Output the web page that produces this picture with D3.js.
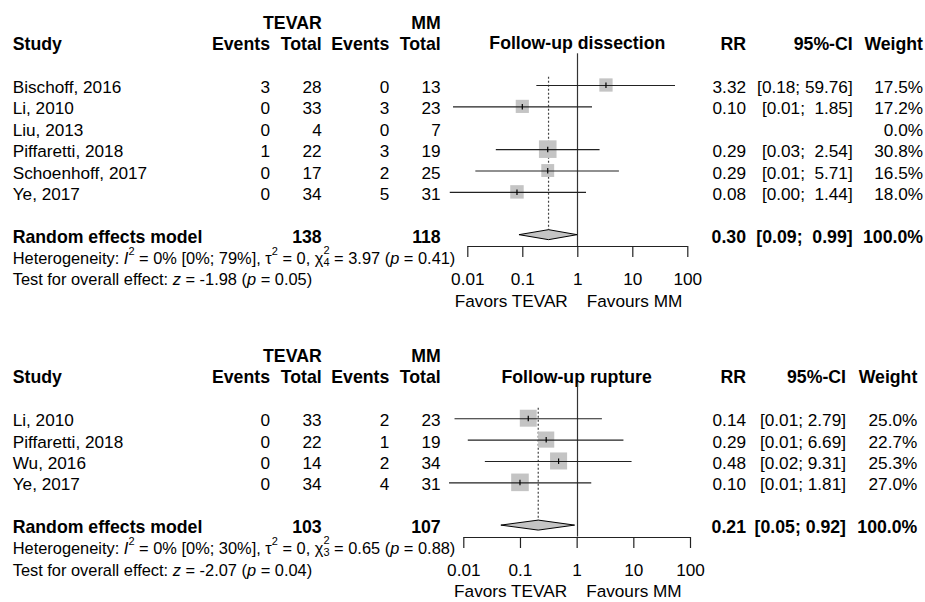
<!DOCTYPE html>
<html>
<head>
<meta charset="utf-8">
<script src="https://cdn.jsdelivr.net/npm/d3@7"></script>
<style>
  html, body { margin: 0; padding: 0; background: #fff; }
  svg { display: block; }
  text { font-family: "Liberation Sans", Arial, sans-serif; fill: #000; }
</style>
</head>
<body>
<svg id="chart" width="925" height="602"></svg>
<script>
// ---------------- DATA ----------------
// Panel 1: Follow-up dissection
const studies1 = ["Bischoff, 2016", "Li, 2010", "Liu, 2013", "Piffaretti, 2018", "Schoenhoff, 2017", "Ye, 2017"];
const tevarEvents1 = [3, 0, 0, 1, 0, 0];
const tevarTotal1 = [28, 33, 4, 22, 17, 34];
const mmEvents1 = [0, 3, 0, 3, 2, 5];
const mmTotal1 = [13, 23, 7, 19, 25, 31];
const rr1 = [3.32, 0.10, null, 0.29, 0.29, 0.08];
const lower1 = [0.18, 0.0055, null, 0.033, 0.014, 0.0048];
const upper1 = [59.76, 1.85, null, 2.54, 5.71, 1.44];
const weight1 = [17.5, 17.2, 0.0, 30.8, 16.5, 18.0];
const pooled1 = [0.30, 0.087, 0.99];   // RR, lower, upper
const het1 = { i2: "0% [0%; 79%]", tau2: "0", df: "4", q: "3.97", p: "0.41", z: "-1.98", pz: "0.05" };

// Panel 2: Follow-up rupture
const studies2 = ["Li, 2010", "Piffaretti, 2018", "Wu, 2016", "Ye, 2017"];
const tevarEvents2 = [0, 0, 0, 0];
const tevarTotal2 = [33, 22, 14, 34];
const mmEvents2 = [2, 1, 2, 4];
const mmTotal2 = [23, 19, 34, 31];
const rr2 = [0.14, 0.29, 0.48, 0.10];
const lower2 = [0.007, 0.012, 0.024, 0.0056];
const upper2 = [2.79, 6.69, 9.31, 1.81];
const weight2 = [25.0, 22.7, 25.3, 27.0];
const pooled2 = [0.21, 0.046, 0.92];
const het2 = { i2: "0% [0%; 30%]", tau2: "0", df: "3", q: "0.65", p: "0.88", z: "-2.07", pz: "0.04" };

const titles = ["Follow-up dissection", "Follow-up rupture"];
const tickValues = [0.01, 0.1, 1, 10, 100];
const tickLabels = ["0.01", "0.1", "1", "10", "100"];
const favLeft = "Favors TEVAR";
const favRight = "Favours MM";
const modelLabel = "Random effects model";

// ---------------- LAYOUT ----------------
const svg = d3.select("#chart");
svg.append("rect").attr("width", 925).attr("height", 602).attr("fill", "#fff");

const FS = 17.2;      // regular text
const FSB = 17.7;     // bold text
const FSH = 16.4;     // heterogeneity / test lines
const ROW = 21.38;

const panels = [
  { studies: studies1, te: tevarEvents1, tt: tevarTotal1, me: mmEvents1, mt: mmTotal1,
    rr: rr1, lo: lower1, up: upper1, w: weight1, pooled: pooled1, het: het1, title: titles[0],
    line0: 85, range: [467.3, 687.3], ciRight: 852.7, wRight: 923, vTop: 53.3, dotTop: 76.7, titleShift: -1.5 },
  { studies: studies2, te: tevarEvents2, tt: tevarTotal2, me: mmEvents2, mt: mmTotal2,
    rr: rr2, lo: lower2, up: upper2, w: weight2, pooled: pooled2, het: het2, title: titles[1],
    line0: 418.2, range: [463.3, 690], ciRight: 846, wRight: 917.3, vTop: 383.3, dotTop: 407.7, titleShift: 0 }
];

const colStudy = 12.7, colTE = 270, colTT = 321.7, colME = 389.3, colMT = 440.7, colRR = 746;

function txt(g, x, y, s, opts = {}) {
  const t = g.append("text").attr("x", x).attr("y", y).text(s)
    .attr("font-size", opts.size || (opts.bold ? FSB : FS))
    .attr("text-anchor", opts.anchor || "start")
    .style("white-space", "pre");
  if (opts.bold) t.attr("font-weight", "bold");
  return t;
}

panels.forEach(P => {
  const g = svg.append("g");
  const n = P.studies.length;
  const lineY = i => P.line0 + i * ROW;
  const base = i => lineY(i) + 8;
  const sumRow = n + 1;
  const x = d3.scaleLog().domain([0.01, 100]).range(P.range);

  // headers
  txt(g, colTT, base(-3), "TEVAR", { bold: true, anchor: "end" });
  txt(g, colMT, base(-3), "MM", { bold: true, anchor: "end" });
  txt(g, colStudy, base(-2), "Study", { bold: true });
  txt(g, colTE, base(-2), "Events", { bold: true, anchor: "end" });
  txt(g, colTT, base(-2), "Total", { bold: true, anchor: "end" });
  txt(g, colME, base(-2), "Events", { bold: true, anchor: "end" });
  txt(g, colMT, base(-2), "Total", { bold: true, anchor: "end" });
  txt(g, x(1), base(-2) + P.titleShift, P.title, { bold: true, anchor: "middle" });
  txt(g, colRR, base(-2), "RR", { bold: true, anchor: "end" });
  txt(g, P.ciRight, base(-2), "95%-CI", { bold: true, anchor: "end" });
  txt(g, P.wRight, base(-2), "Weight", { bold: true, anchor: "end" });

  // CI label formatting (pad upper bound like R meta)
  const upStrs = P.up.map(v => v == null ? "" : v.toFixed(2));
  const maxUp = d3.max(upStrs, s => s.length);
  const ciLabel = (lo, up) => {
    const u = up.toFixed(2);
    return "[" + lo.toFixed(2) + "; " + " ".repeat(maxUp - u.length) + u + "]";
  };

  // study rows
  P.studies.forEach((s, i) => {
    const b = base(i);
    txt(g, colStudy, b, s);
    txt(g, colTE, b, String(P.te[i]), { anchor: "end" });
    txt(g, colTT, b, String(P.tt[i]), { anchor: "end" });
    txt(g, colME, b, String(P.me[i]), { anchor: "end" });
    txt(g, colMT, b, String(P.mt[i]), { anchor: "end" });
    if (P.rr[i] != null) {
      txt(g, colRR, b, P.rr[i].toFixed(2), { anchor: "end" });
      txt(g, P.ciRight, b, ciLabel(P.lo[i], P.up[i]), { anchor: "end" });
    }
    txt(g, P.wRight, b, P.w[i].toFixed(1) + "%", { anchor: "end" });
  });

  // vertical reference line at 1
  const axisY = lineY(sumRow) + 11.5;
  g.append("line").attr("x1", Math.round(x(1)) + 0.5).attr("x2", Math.round(x(1)) + 0.5)
    .attr("y1", P.vTop).attr("y2", axisY).attr("stroke", "#333").attr("stroke-width", 1.2);

  // pooled dotted line
  const xp = x(P.pooled[0]);
  g.append("line").attr("x1", xp).attr("x2", xp)
    .attr("y1", P.dotTop).attr("y2", lineY(sumRow) - 5)
    .attr("stroke", "#444").attr("stroke-width", 1.2).attr("stroke-dasharray", "2,2");

  // squares & CI lines
  const maxW = d3.max(P.w);
  const side = d3.scaleSqrt().domain([0, maxW]).range([0, 17.6]);
  P.studies.forEach((s, i) => {
    if (P.rr[i] == null) return;
    const y = lineY(i);
    const sd = side(P.w[i]);
    g.append("rect").attr("x", x(P.rr[i]) - sd / 2).attr("y", y - sd / 2)
      .attr("width", sd).attr("height", sd).attr("fill", "#c4c4c4");
    g.append("line").attr("x1", x(P.lo[i])).attr("x2", x(P.up[i]))
      .attr("y1", y + 0.5).attr("y2", y + 0.5).attr("stroke", "#222").attr("stroke-width", 1.1);
    g.append("line").attr("x1", x(P.rr[i])).attr("x2", x(P.rr[i]))
      .attr("y1", y - 2.5).attr("y2", y + 3).attr("stroke", "#000").attr("stroke-width", 1.2);
  });

  // summary row
  const sb = base(sumRow);
  txt(g, colStudy, sb, modelLabel, { bold: true });
  txt(g, colTT, sb, String(d3.sum(P.tt)), { bold: true, anchor: "end" });
  txt(g, colMT, sb, String(d3.sum(P.mt)), { bold: true, anchor: "end" });
  txt(g, colRR, sb, P.pooled[0].toFixed(2), { bold: true, anchor: "end" });
  txt(g, P.ciRight, sb, ciLabel(P.pooled[1], P.pooled[2]), { bold: true, anchor: "end" });
  txt(g, P.wRight, sb, d3.sum(P.w).toFixed(1) + "%", { bold: true, anchor: "end" });

  const sy = lineY(sumRow);
  const dpts = [[x(P.pooled[1]), sy], [xp, sy - 5], [x(P.pooled[2]), sy], [xp, sy + 5]];
  g.append("path").attr("d", "M" + dpts.map(p => p.join(",")).join("L") + "Z")
    .attr("fill", "#c4c4c4").attr("stroke", "#000").attr("stroke-width", 1);

  // axis
  const axis = d3.axisBottom(x).tickValues(tickValues)
    .tickFormat((d, i) => tickLabels[i]).tickSize(11).tickSizeOuter(0).tickPadding(17);
  const ag = g.append("g").attr("transform", `translate(0,${Math.round(axisY)})`).call(axis);
  ag.selectAll("path, line").attr("stroke", "#222").attr("stroke-width", 1.2);
  ag.selectAll("text").attr("font-size", FS).attr("font-family", '"Liberation Sans", Arial, sans-serif')
    .attr("fill", "#000").attr("dy", null).attr("y", base(sumRow + 2) - Math.round(axisY));
  ag.attr("font-size", null).attr("font-family", null);

  txt(g, x(1) - 9.5, base(sumRow + 3), favLeft, { anchor: "end" });
  txt(g, x(1) + 9.5, base(sumRow + 3), favRight);

  // heterogeneity line
  const H = P.het;
  const ht = g.append("text").attr("x", colStudy).attr("y", base(sumRow + 1)).attr("font-size", FSH).style("white-space", "pre");
  ht.append("tspan").text("Heterogeneity: ");
  ht.append("tspan").attr("font-style", "italic").text("I");
  ht.append("tspan").attr("font-size", 11).attr("dy", -9).text("2");
  ht.append("tspan").attr("dy", 9).text(" = " + H.i2 + ", \u03C4");
  ht.append("tspan").attr("font-size", 11).attr("dy", -9).text("2");
  ht.append("tspan").attr("dy", 9).text(" = " + H.tau2 + ", \u03C7");
  ht.append("tspan").attr("font-size", 11).attr("dy", -10).text("2");
  ht.append("tspan").attr("font-size", 11).attr("dx", -6.1).attr("dy", 12).text(H.df);
  ht.append("tspan").attr("dy", -2).text(" = " + H.q + " (");
  ht.append("tspan").attr("font-style", "italic").text("p");
  ht.append("tspan").text(" = " + H.p + ")");

  // overall effect line
  const tt = g.append("text").attr("x", colStudy).attr("y", base(sumRow + 2)).attr("font-size", FSH).style("white-space", "pre");
  tt.append("tspan").text("Test for overall effect: ");
  tt.append("tspan").attr("font-style", "italic").text("z");
  tt.append("tspan").text(" = " + H.z + " (");
  tt.append("tspan").attr("font-style", "italic").text("p");
  tt.append("tspan").text(" = " + H.pz + ")");
});
</script>
</body>
</html>
